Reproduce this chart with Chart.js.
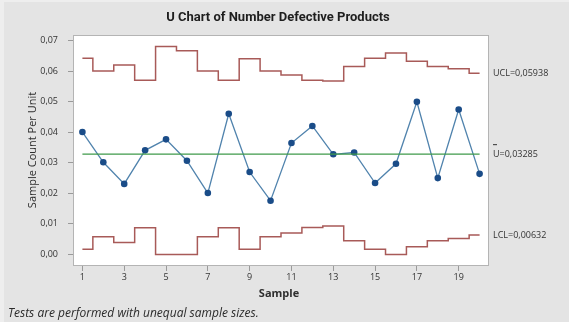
<!DOCTYPE html>
<html>
<head>
<meta charset="utf-8">
<script src="https://cdn.jsdelivr.net/npm/chart.js@4/dist/chart.umd.min.js"></script>
<style>
  html, body { margin: 0; padding: 0; background: #e4e4e4; }
  canvas { display: block; }
</style>
</head>
<body>
<canvas id="uchart" width="569" height="322"></canvas>
<script>
// Sample numbers and per-unit defect rates
const samples = [1, 2, 3, 4, 5, 6, 7, 8, 9, 10, 11, 12, 13, 14, 15, 16, 17, 18, 19, 20];
const uValues = [0.0401, 0.0302, 0.0231, 0.0341, 0.0377, 0.0307, 0.0201, 0.0461, 0.0270, 0.0176,
                 0.0365, 0.0421, 0.0328, 0.0334, 0.0234, 0.0297, 0.0500, 0.0250, 0.0475, 0.0264];
// Control limits vary with each sample size
const uclValues = [0.0643, 0.0601, 0.0621, 0.0571, 0.0681, 0.0667, 0.0601, 0.0571, 0.0641, 0.0601,
                   0.0588, 0.0571, 0.0568, 0.0616, 0.0643, 0.0660, 0.0633, 0.0616, 0.0608, 0.05938];
const lclValues = [0.0017, 0.0058, 0.0039, 0.0087, 0.0000, 0.0000, 0.0058, 0.0087, 0.0017, 0.0058,
                   0.0070, 0.0088, 0.0093, 0.0045, 0.0017, 0.0000, 0.0025, 0.0045, 0.0052, 0.00632];
const centerValue = 0.03285;

const yTicks = [0.00, 0.01, 0.02, 0.03, 0.04, 0.05, 0.06, 0.07];
const xTicks = [1, 3, 5, 7, 9, 11, 13, 15, 17, 19];

const titleText = 'U Chart of Number Defective Products';
const yTitle = 'Sample Count Per Unit';
const xTitle = 'Sample';
const footText = 'Tests are performed with unequal sample sizes.';
const uclLabel = 'UCL=0,05938';
const centerLabel = 'U=0,03285';
const lclLabel = 'LCL=0,00632';

const comma = v => v.toFixed(2).replace('.', ',');
const pts = arr => samples.map((s, i) => ({ x: s, y: arr[i] }));

const limitColor = '#a85a58';
const centerColor = '#3f9a4a';

const decor = {
  id: 'decor',
  beforeDraw(chart) {
    const { ctx, chartArea: a } = chart;
    ctx.save();
    ctx.fillStyle = '#eeeeee';
    ctx.fillRect(0, 0, chart.width, chart.height);
    ctx.fillStyle = '#e4e4e4';
    ctx.fillRect(4, 2, chart.width - 4, chart.height - 2);
    ctx.fillStyle = '#ffffff';
    ctx.fillRect(a.left, a.top, a.right - a.left, a.bottom - a.top);
    ctx.restore();
  },
  afterDatasetsDraw(chart) {
    const { ctx, chartArea: a } = chart;
    ctx.save();
    ctx.strokeStyle = '#b4b4b4';
    ctx.lineWidth = 1;
    ctx.strokeRect(a.left + 0.5, a.top + 0.5, a.right - a.left - 1, a.bottom - a.top - 1);
    ctx.restore();
  },
  afterDraw(chart) {
    const { ctx, chartArea: a } = chart;
    const y = chart.scales.y;
    ctx.save();
    ctx.fillStyle = '#1e1e1e';
    ctx.textAlign = 'center';
    ctx.textBaseline = 'middle';
    ctx.font = 'bold 13px Roboto';
    ctx.fillText(titleText, 278, 18);

    ctx.fillStyle = '#2e2e2e';
    ctx.font = 'bold 11px "Open Sans"';
    ctx.fillText(xTitle, 279, 294);

    ctx.save();
    ctx.translate(33, 150);
    ctx.rotate(-Math.PI / 2);
    ctx.font = '11px "Open Sans"';
    ctx.fillText(yTitle, 0, 0);
    ctx.restore();

    ctx.textAlign = 'left';
    ctx.fillStyle = '#2a2a2a';
    ctx.font = 'italic 12px "Open Sans"';
    ctx.fillText(footText, 8, 314);

    ctx.fillStyle = '#333333';
    ctx.font = '9px "Open Sans"';
    const lx = a.right + 4;
    ctx.fillText(uclLabel, lx, y.getPixelForValue(uclValues[uclValues.length - 1]));
    const cy = y.getPixelForValue(centerValue);
    ctx.fillText(centerLabel, lx, cy);
    ctx.fillRect(lx, cy - 10, 4, 1);
    ctx.fillText(lclLabel, lx, y.getPixelForValue(lclValues[lclValues.length - 1]));
    ctx.restore();
  }
};

new Chart(document.getElementById('uchart'), {
  type: 'line',
  data: {
    datasets: [
      {
        label: 'UCL', data: pts(uclValues), stepped: 'middle',
        borderColor: limitColor, borderWidth: 1.5, pointRadius: 0, fill: false
      },
      {
        label: 'LCL', data: pts(lclValues), stepped: 'middle',
        borderColor: limitColor, borderWidth: 1.5, pointRadius: 0, fill: false
      },
      {
        label: 'U', data: [{ x: samples[0], y: centerValue }, { x: samples[samples.length - 1], y: centerValue }],
        borderColor: centerColor, borderWidth: 1.3, pointRadius: 0, fill: false
      },
      {
        label: 'Sample', data: pts(uValues),
        borderColor: '#5083ad', borderWidth: 1.3,
        pointRadius: 3.3, pointBackgroundColor: '#1a4c88', pointBorderColor: '#1a4c88',
        pointBorderWidth: 0, fill: false, tension: 0
      }
    ]
  },
  options: {
    responsive: false,
    animation: false,
    events: [],
    layout: { padding: { top: 35, right: 80, left: 0, bottom: 0 } },
    plugins: { legend: { display: false }, tooltip: { enabled: false }, title: { display: false } },
    scales: {
      x: {
        type: 'linear', min: 0.55, max: 20.45,
        afterFit(s) { s.height = 56; },
        afterBuildTicks(s) { s.ticks = xTicks.map(v => ({ value: v })); },
        grid: { drawOnChartArea: false, drawTicks: true, tickLength: 5, color: '#9a9a9a' },
        border: { display: false },
        ticks: { color: '#333', font: { family: 'Open Sans', size: 9 }, padding: 1, maxRotation: 0, autoSkip: false,
                 callback: v => String(v) }
      },
      y: {
        type: 'linear', min: -0.0038, max: 0.0719,
        afterFit(s) { s.width = 73; },
        afterBuildTicks(s) { s.ticks = yTicks.map(v => ({ value: v })); },
        grid: { drawOnChartArea: false, drawTicks: true, tickLength: 5, color: '#9a9a9a' },
        border: { display: false },
        ticks: { color: '#333', font: { family: 'Open Sans', size: 9 }, padding: 10, callback: v => comma(v) }
      }
    }
  },
  plugins: [decor]
});
</script>
</body>
</html>
